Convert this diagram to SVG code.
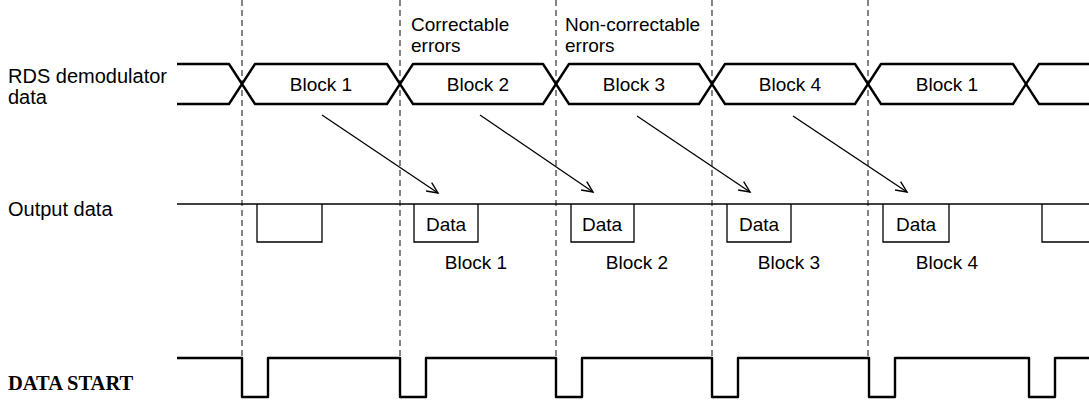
<svg xmlns="http://www.w3.org/2000/svg" width="1089" height="405" viewBox="0 0 1089 405">
  <style>
    .lbl { font-family: "Liberation Sans", Arial, sans-serif; font-size: 19px; fill: #000; }
    .side { font-size: 20px; }
    .mid { text-anchor: middle; }
    .bold { font-family: "Liberation Serif", "Times New Roman", serif; font-size: 20.5px; font-weight: bold; fill: #000; }
    .guide { stroke: #222; stroke-width: 1.1; stroke-dasharray: 6 4; fill: none; }
    .sig { stroke: #000; stroke-width: 2.4; fill: none; stroke-linejoin: round; }
    .thin { stroke: #000; stroke-width: 1.3; fill: none; }
    .arrow { stroke: #000; stroke-width: 1.3; fill: none; marker-end: url(#vhead); }
  </style>
  <defs>
    <marker id="vhead" markerWidth="14" markerHeight="14" refX="12" refY="6" orient="auto" markerUnits="userSpaceOnUse">
      <path d="M1,1 L12,6 L1,11" fill="none" stroke="#000" stroke-width="1.4"/>
    </marker>
  </defs>

  <rect width="1089" height="405" fill="#fff"/>

  <!-- timing guides at each block boundary -->
  <g id="guides">
    <line class="guide" x1="242" y1="0" x2="242" y2="358"/>
    <line class="guide" x1="400" y1="0" x2="400" y2="358"/>
    <line class="guide" x1="556" y1="0" x2="556" y2="358"/>
    <line class="guide" x1="712" y1="0" x2="712" y2="358"/>
    <line class="guide" x1="868" y1="0" x2="868" y2="358"/>
  </g>

  <!-- signal names -->
  <g id="signal-labels">
    <text class="lbl side" x="8" y="83">RDS demodulator</text>
    <text class="lbl side" x="8" y="104">data</text>
    <text class="lbl side" x="8" y="216">Output data</text>
    <text class="bold" x="8" y="390">DATA START</text>
  </g>

  <!-- error annotations -->
  <g id="annotations">
    <text class="lbl" x="411" y="31">Correctable</text>
    <text class="lbl" x="411" y="52">errors</text>
    <text class="lbl" x="565" y="31">Non-correctable</text>
    <text class="lbl" x="565" y="52">errors</text>
  </g>

  <!-- RDS demodulator data bus -->
  <g id="rds-data">
    <path class="sig" d="M177,64 H229 L255,104 H387 L413,64 H543 L569,104 H699 L725,64 H855 L881,104 H1013 L1039,64 H1089"/>
    <path class="sig" d="M177,104 H229 L255,64 H387 L413,104 H543 L569,64 H699 L725,104 H855 L881,64 H1013 L1039,104 H1089"/>
    <text class="lbl mid" x="321" y="91">Block 1</text>
    <text class="lbl mid" x="478" y="91">Block 2</text>
    <text class="lbl mid" x="634" y="91">Block 3</text>
    <text class="lbl mid" x="790" y="91">Block 4</text>
    <text class="lbl mid" x="947" y="91">Block 1</text>
  </g>

  <!-- output data -->
  <g id="output-data">
    <line class="thin" x1="177" y1="204" x2="1089" y2="204"/>
    <path class="thin" d="M257,204 V242 H322 V204"/>
    <path class="thin" d="M414,204 V242 H478 V204"/>
    <path class="thin" d="M571,204 V242 H634 V204"/>
    <path class="thin" d="M727,204 V242 H791 V204"/>
    <path class="thin" d="M883,204 V242 H949 V204"/>
    <path class="thin" d="M1042,204 V242 H1095"/>
    <text class="lbl mid" x="446" y="231">Data</text>
    <text class="lbl mid" x="602" y="231">Data</text>
    <text class="lbl mid" x="759" y="231">Data</text>
    <text class="lbl mid" x="916" y="231">Data</text>
    <text class="lbl mid" x="476" y="269">Block 1</text>
    <text class="lbl mid" x="637" y="269">Block 2</text>
    <text class="lbl mid" x="789" y="269">Block 3</text>
    <text class="lbl mid" x="947" y="269">Block 4</text>
  </g>

  <!-- DATA START strobe -->
  <g id="data-start">
    <path class="sig" d="M177,358 H242 V397 H268 V358 H400 V397 H426 V358 H556 V397 H582 V358 H712 V397 H738 V358 H869 V397 H895 V358 H1029 V397 H1055 V358 H1089"/>
  </g>

  <!-- block-to-output connectors -->
  <g id="connectors">
    <line class="arrow" x1="322" y1="115" x2="438" y2="193"/>
    <line class="arrow" x1="480" y1="115" x2="593" y2="192"/>
    <line class="arrow" x1="637" y1="116" x2="750" y2="192"/>
    <line class="arrow" x1="793" y1="116" x2="907" y2="192"/>
  </g>
</svg>
